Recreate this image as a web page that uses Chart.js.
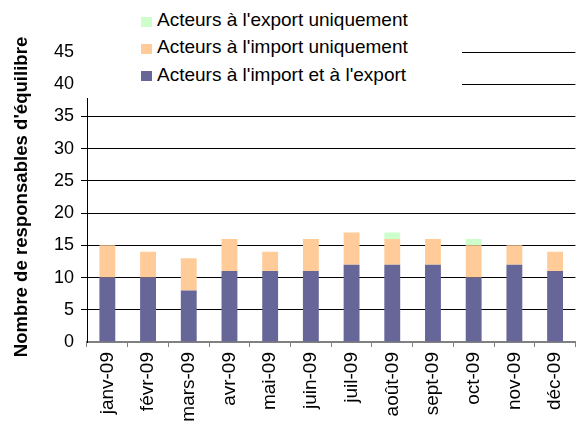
<!DOCTYPE html>
<html><head><meta charset="utf-8">
<script src="https://cdn.jsdelivr.net/npm/chart.js@4/dist/chart.umd.min.js"></script>
<style>
html,body{margin:0;padding:0;background:#fff;}
#wrap{position:relative;width:583px;height:423px;overflow:hidden;}
canvas{position:absolute;left:0;top:0;}
#legend{position:absolute;left:78px;top:0;width:384px;height:98px;background:#fff;font-family:"Liberation Sans",Arial,sans-serif;font-size:19px;color:#000;}
.sw{position:absolute;width:11px;height:10px;}
.tx{position:absolute;line-height:19px;white-space:nowrap;}
</style></head>
<body>
<div id="wrap">
<canvas id="c" width="583" height="423"></canvas>
<div id="legend"></div>
</div>
<script>
const months = ['janv-09','févr-09','mars-09','avr-09','mai-09','juin-09','juil-09','août-09','sept-09','oct-09','nov-09','déc-09'];
const importExport = [10,10,8,11,11,11,12,12,12,10,12,11];
const importOnly = [5,4,5,5,3,5,5,4,4,5,3,3];
const exportOnly = [0,0,0,0,0,0,0,1,0,1,0,0];
const seriesNames = ["Acteurs à l'import et à l'export","Acteurs à l'import uniquement","Acteurs à l'export uniquement"];
const seriesColors = ['#666699','#FFCC99','#CCFFCC'];
const yMax = 45, yStep = 5;
const yTitle = "Nombre de responsables d'équilibre";

const FONT = '"Liberation Sans", Arial, sans-serif';

const datasets = [importExport, importOnly, exportOnly].map((d,i)=>({
  label: seriesNames[i], data: d, backgroundColor: seriesColors[i],
  borderWidth: 0, barPercentage: 0.39, categoryPercentage: 1.0
}));

new Chart(document.getElementById('c'), {
  type: 'bar',
  data: { labels: months, datasets },
  options: {
    responsive: false, animation: false, devicePixelRatio: 1,
    layout: { padding: { top: 52, right: 3, bottom: 0, left: 0 } },
    plugins: { legend: { display: false }, tooltip: { enabled: false } },
    scales: {
      x: {
        stacked: true,
        grid: { drawOnChartArea: false, drawTicks: true, tickLength: 5, color: '#808080', offset: true },
        border: { color: '#808080', width: 2 },
        ticks: { minRotation: 90, maxRotation: 90, color: '#000', padding: 5, font: { family: FONT, size: 19 } },
        afterFit: s => { s.height = 81; }
      },
      y: {
        stacked: true, min: 0, max: yMax,
        ticks: { stepSize: yStep, color: '#000', padding: 7, font: { family: FONT, size: 18 } },
        grid: { color: c => (c.tick && c.tick.value === 0) ? 'rgba(0,0,0,0)' : '#000', lineWidth: 1, tickLength: 6 },
        border: { color: '#000', width: 1 },
        title: { display: true, text: yTitle, color: '#000', padding: { top: 11, bottom: 0 }, font: { family: FONT, size: 18.6, weight: 'bold' } },
        afterFit: s => { s.width = 87; }
      }
    }
  }
});

// overlay legend (top series first)
const lg = document.getElementById('legend');
const rows = [2,1,0];
const baselines = [26.5, 53.5, 81];
rows.forEach((si, r) => {
  const sw = document.createElement('div');
  sw.className = 'sw';
  sw.style.background = seriesColors[si];
  sw.style.left = (141 - 78) + 'px';
  sw.style.top = (baselines[r] - 10) + 'px';
  lg.appendChild(sw);
  const tx = document.createElement('div');
  tx.className = 'tx';
  tx.textContent = seriesNames[si];
  tx.style.left = (157 - 78) + 'px';
  tx.style.top = (baselines[r] - 16.1) + 'px';
  lg.appendChild(tx);
});
</script>
</body></html>
